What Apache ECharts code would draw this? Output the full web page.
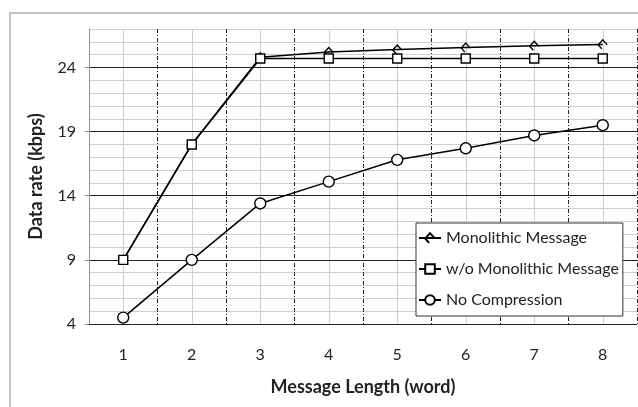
<!DOCTYPE html>
<html><head><meta charset="utf-8">
<script src="https://cdn.jsdelivr.net/npm/echarts@6/dist/echarts.min.js"></script>
<style>html,body{margin:0;padding:0;background:#fff}#c{width:638px;height:407px}</style>
</head><body><div id="c"></div>
<script>
var categories = ['1','2','3','4','5','6','7','8'];
var monolithic = [9, 18, 24.8, 25.2, 25.4, 25.55, 25.7, 25.8];
var woMonolithic = [9, 18, 24.7, 24.7, 24.7, 24.7, 24.7, 24.7];
var noCompression = [4.5, 9, 13.4, 15.1, 16.8, 17.7, 18.7, 19.5];
var yTicks = {min: 4, max: 27, major: 5, minor: 1};
var halfSteps = [];
for (var i = 0; i <= categories.length * 2; i++) halfSteps.push(String(0.5 + i * 0.5));

var font = 'Lato, "Open Sans", sans-serif';
var chart = echarts.init(document.getElementById('c'), null, {renderer: 'canvas'});
var hook = 'path://M10,5 L5,0 L0,5 L4,9';
function ser(name, data, symbol, size, fill) {
  return {
    name: name, type: 'line', data: data, xAxisIndex: 0, yAxisIndex: 0,
    symbol: symbol, symbolSize: size, showAllSymbol: true,
    lineStyle: {color: '#000', width: 1.5},
    itemStyle: {color: fill, borderColor: '#000', borderWidth: 1.4},
    z: 5, animation: false
  };
}
chart.setOption({
  animation: false,
  backgroundColor: '#fff',
  graphic: [{type: 'rect', shape: {x: 10, y: 13, width: 640, height: 400},
    style: {fill: 'none', stroke: '#c4c4c4', lineWidth: 2}, z: -10}],
  grid: {left: 89, top: 29, right: 1, bottom: 83, containLabel: false},
  xAxis: [{
    type: 'category', data: categories, boundaryGap: true, z: 2,
    name: 'Message Length (word)', nameLocation: 'middle', nameGap: 54,
    nameTextStyle: {fontFamily: font, fontSize: 18, fontWeight: 'bold', color: '#222'},
    axisLine: {show: false}, axisTick: {show: false},
    axisLabel: {fontFamily: font, fontSize: 16, color: '#222', margin: 23},
    splitLine: {show: true, lineStyle: {color: '#222', type: [4, 2, 1, 2], width: 1}}
  }, {
    type: 'category', data: halfSteps, boundaryGap: false, position: 'bottom', z: 0,
    axisLine: {show: false}, axisTick: {show: false}, axisLabel: {show: false},
    splitLine: {show: true, interval: function (idx) { return idx % 2 === 1; },
      lineStyle: {color: '#cfcfcf', width: 1}}
  }],
  yAxis: [{
    type: 'value', min: yTicks.min, max: yTicks.max, interval: yTicks.major, z: 2,
    name: 'Data rate (kbps)', nameLocation: 'middle', nameGap: 44,
    nameTextStyle: {fontFamily: font, fontSize: 18, fontWeight: 'bold', color: '#222'},
    axisLine: {show: true, lineStyle: {color: '#6b9bd6', width: 1}},
    axisTick: {show: true, length: 4, lineStyle: {color: '#6b9bd6'}},
    axisLabel: {fontFamily: font, fontSize: 16, color: '#222', margin: 13, showMaxLabel: false},
    splitLine: {show: true, lineStyle: {color: ['#222', '#222', '#222', '#222', '#222', '#cfcfcf'], width: 1}}
  }, {
    type: 'value', min: yTicks.min, max: yTicks.max, interval: yTicks.minor, z: 0,
    axisLine: {show: false}, axisTick: {show: false}, axisLabel: {show: false},
    splitLine: {show: true, lineStyle: {color: '#cfcfcf', width: 1}}
  }],
  legend: {
    orient: 'vertical', left: 416, top: 223,
    backgroundColor: '#fff', borderColor: '#333', borderWidth: 1,
    padding: [7, 4, 8, 2], itemGap: 15, itemWidth: 22, itemHeight: 12,
    textStyle: {fontFamily: font, fontSize: 16, color: '#222'},
    data: ['Monolithic Message', 'w/o Monolithic Message', 'No Compression']
  },
  series: [
    ser('Monolithic Message', monolithic, hook, [9, 9], 'transparent'),
    ser('No Compression', noCompression, 'circle', 11, '#fff'),
    ser('w/o Monolithic Message', woMonolithic, 'rect', 9, '#fff')
  ]
});
</script></body></html>
